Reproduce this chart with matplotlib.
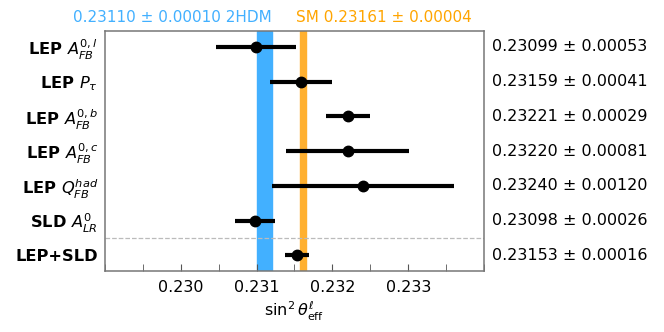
import matplotlib.pyplot as plt
from matplotlib.ticker import MultipleLocator
from matplotlib.transforms import blended_transform_factory

labels = [r"LEP $A_{FB}^{0,l}$", r"LEP $P_\tau$", r"LEP $A_{FB}^{0,b}$",
          r"LEP $A_{FB}^{0,c}$", r"LEP $Q_{FB}^{had}$", r"SLD $A_{LR}^{0}$", "LEP+SLD"]
values = [0.23099, 0.23159, 0.23221, 0.23220, 0.23240, 0.23098, 0.23153]
errors = [0.00053, 0.00041, 0.00029, 0.00081, 0.00120, 0.00026, 0.00016]

hdm_val, hdm_err = 0.23110, 0.00010
sm_val, sm_err = 0.23161, 0.00004

fig, ax = plt.subplots(figsize=(6.64, 3.32), dpi=100)
fig.subplots_adjust(left=0.158, right=0.729, top=0.907, bottom=0.183)

ys = list(range(len(labels)))
ax.axvspan(hdm_val - hdm_err, hdm_val + hdm_err, color='#42b0ff', zorder=1)
ax.axvspan(sm_val - sm_err, sm_val + sm_err, color='#ffb030', zorder=1)

ax.errorbar(values, ys, xerr=errors, fmt='o', color='black', ms=7.5,
            elinewidth=3, capsize=0, zorder=3)
ax.axhline(5.5, color='#bbbbbb', ls='--', lw=0.9)

ax.set_xlim(0.229, 0.234)
ax.set_ylim(len(labels) - 0.54, -0.46)
ax.set_yticks(ys)
ax.set_yticklabels(labels, fontsize=11.7, fontweight='bold')
ax.tick_params(axis='y', length=0, pad=5)
ax.set_xticks([0.230, 0.231, 0.232, 0.233])
ax.set_xticklabels(['0.230', '0.231', '0.232', '0.233'])
ax.xaxis.set_minor_locator(MultipleLocator(0.0005))
ax.tick_params(axis='x', direction='in', labelsize=11.5, length=5, color='#555555', pad=6)
ax.tick_params(axis='x', which='minor', direction='in', length=5, color='#555555')
ax.set_xlabel(r"$\sin^2\theta_{\rm eff}^{\ell}$", fontsize=11.5, labelpad=4)
for s in ax.spines.values():
    s.set_color('#777777')
    s.set_linewidth(1.1)

trans = blended_transform_factory(ax.transAxes, ax.transData)
for y, v, e in zip(ys, values, errors):
    ax.text(1.02, y, f"{v:.5f} ± {e:.5f}", transform=trans, fontsize=11.5,
            va='center', ha='left')

ax.text(hdm_val + hdm_err, -0.62, f"{hdm_val:.5f} ± {hdm_err:.5f} 2HDM",
        color='#42b0ff', fontsize=11, ha='right', va='bottom')
ax.text(sm_val - sm_err - 0.00005, -0.62, f"SM {sm_val:.5f} ± {sm_err:.5f}",
        color='#ffa500', fontsize=11, ha='left', va='bottom')

fig.savefig('out.png', dpi=100)
